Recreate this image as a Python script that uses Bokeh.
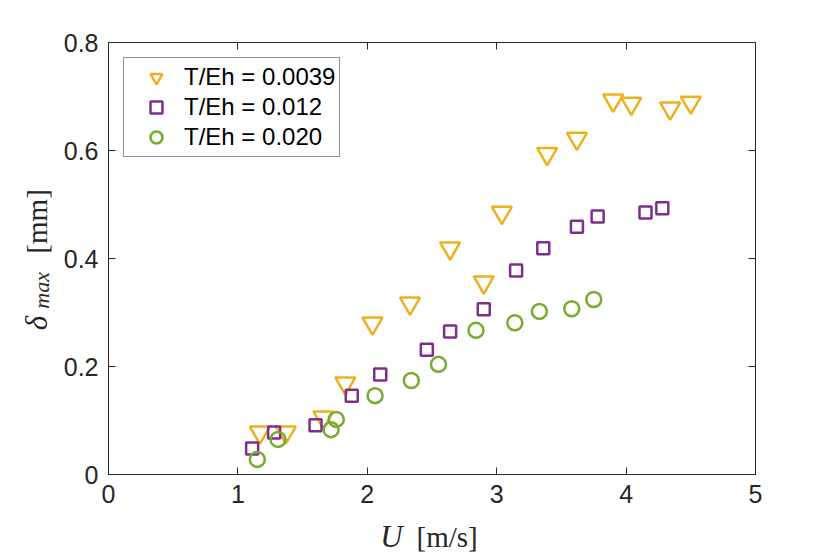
import math
from bokeh.plotting import figure
from bokeh.models import (Legend, LegendItem, LinearAxis, FixedTicker, Label, Range1d)
from bokeh.embed import file_html
from bokeh.resources import INLINE

# ---- data ----
u_a = [1.17, 1.37, 1.66, 1.83, 2.04, 2.33, 2.64, 2.90, 3.04, 3.39, 3.62, 3.90, 4.04, 4.34, 4.50]
d_a = [0.078, 0.078, 0.106, 0.169, 0.280, 0.317, 0.419, 0.356, 0.485, 0.594, 0.622, 0.693, 0.687, 0.678, 0.689]

u_b = [1.11, 1.28, 1.60, 1.88, 2.10, 2.46, 2.64, 2.90, 3.15, 3.36, 3.62, 3.78, 4.15, 4.28]
d_b = [0.048, 0.078, 0.091, 0.146, 0.185, 0.231, 0.265, 0.306, 0.378, 0.419, 0.459, 0.478, 0.485, 0.493]

u_c = [1.15, 1.31, 1.72, 1.76, 2.06, 2.34, 2.55, 2.84, 3.14, 3.33, 3.58, 3.75]
d_c = [0.028, 0.065, 0.083, 0.102, 0.146, 0.174, 0.204, 0.267, 0.281, 0.302, 0.307, 0.324]

labels = ["T/Eh = 0.0039", "T/Eh = 0.012", "T/Eh = 0.020"]
xticks = [0, 1, 2, 3, 4, 5]
yticks = [0, 0.2, 0.4, 0.6, 0.8]
ytick_labels = ["0", "0.2", "0.4", "0.6", "0.8"]

colors = ["#EDB120", "#7E2F8E", "#77AC30"]
axc = "#262626"

p = figure(width=830, height=554, output_backend="svg", toolbar_location=None,
           x_range=Range1d(0, 5), y_range=Range1d(0, 0.8),
           min_border_left=108, min_border_right=75, min_border_top=42, min_border_bottom=80,
           x_axis_location=None, y_axis_location=None)
p.grid.visible = False
p.outline_line_color = axc
p.outline_line_width = 1
p.background_fill_color = "white"
p.border_fill_color = "white"

def style_axis(ax, show_labels):
    ax.major_tick_in = 7
    ax.major_tick_out = 0
    ax.minor_tick_in = 0
    ax.minor_tick_out = 0
    ax.axis_line_color = axc
    ax.major_tick_line_color = axc
    ax.major_label_text_font = "Liberation Sans"
    ax.major_label_text_color = axc
    if show_labels:
        ax.major_label_text_font_size = "25px"
        ax.major_label_standoff = 10
    else:
        ax.major_label_text_font_size = "0px"
        ax.major_label_text_alpha = 0
        ax.major_label_standoff = 0

xb = LinearAxis(ticker=FixedTicker(ticks=xticks))
yl = LinearAxis(ticker=FixedTicker(ticks=yticks),
                major_label_overrides={t: s for t, s in zip(yticks, ytick_labels)})
xt = LinearAxis(ticker=FixedTicker(ticks=xticks))
yr = LinearAxis(ticker=FixedTicker(ticks=yticks))
for ax, show in ((xb, True), (yl, True), (xt, False), (yr, False)):
    style_axis(ax, show)
p.add_layout(xb, "below")
p.add_layout(yl, "left")
p.add_layout(xt, "above")
p.add_layout(yr, "right")

ra = p.scatter(u_a, d_a, marker="inverted_triangle", size=20, fill_color=None,
               line_color=colors[0], line_width=2.5)
rb = p.scatter(u_b, d_b, marker="square", size=12, fill_color=None,
               line_color=colors[1], line_width=2.5)
rc = p.scatter(u_c, d_c, marker="circle", size=15, fill_color=None,
               line_color=colors[2], line_width=2.5)

legend = Legend(items=[LegendItem(label=labels[0], renderers=[ra]),
                       LegendItem(label=labels[1], renderers=[rb]),
                       LegendItem(label=labels[2], renderers=[rc])],
                location="top_left", margin=15, padding=4, spacing=-1,
                glyph_width=56, glyph_height=30, label_height=30, label_standoff=0,
                label_text_font="Liberation Sans", label_text_font_size="24px",
                label_text_color="black", border_line_color=axc, border_line_width=1,
                background_fill_color="white", background_fill_alpha=1)
p.add_layout(legend, "center")

serif = "Liberation Serif"
ang = math.pi / 2
# axis titles (placed in side panels so they are not clipped to the frame)
lab_u = Label(x=2.10, y=-0.115, text="U", text_font=serif, text_font_style="italic",
              text_font_size="31px", text_color=axc, text_baseline="alphabetic",
              text_align="left")
lab_ms = Label(x=2.38, y=-0.115, text="[m/s]", text_font=serif,
               text_font_size="29px", text_color=axc, text_baseline="alphabetic",
               text_align="left")
lab_d = Label(x=-0.556, y=0.267, text="δ", text_font=serif, text_font_style="italic",
              text_font_size="31px", text_color=axc, text_baseline="alphabetic",
              text_align="left", angle=ang)
lab_max = Label(x=-0.518, y=0.307, text="max", text_font=serif, text_font_style="italic",
                text_font_size="22px", text_color=axc, text_baseline="alphabetic",
                text_align="left", angle=ang)
lab_mm = Label(x=-0.556, y=0.409, text="[mm]", text_font=serif,
               text_font_size="29px", text_color=axc, text_baseline="alphabetic",
               text_align="left", angle=ang)
p.add_layout(lab_ms, "below")
p.add_layout(lab_u, "left")
p.add_layout(lab_d, "right")
p.add_layout(lab_mm, "right")
p.add_layout(lab_max, "above")

open("out.html", "w").write(file_html(p, INLINE))
